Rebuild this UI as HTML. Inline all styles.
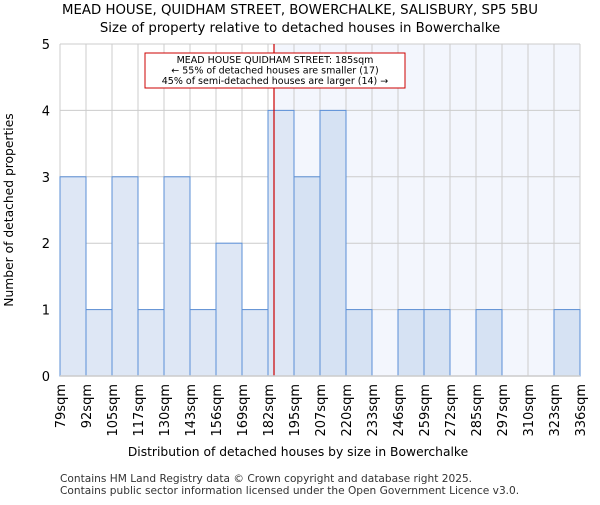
<!DOCTYPE html>
<html><head><meta charset="utf-8"><style>body{margin:0;background:#fff}svg{font-family:"DejaVu Sans","Liberation Sans",sans-serif}</style></head>
<body>
<svg id="c" width="600" height="500" xmlns="http://www.w3.org/2000/svg">
<text x="300" y="14" text-anchor="middle" font-size="13.3">MEAD HOUSE, QUIDHAM STREET, BOWERCHALKE, SALISBURY, SP5 5BU</text>
<text x="300" y="32" text-anchor="middle" font-size="13.3">Size of property relative to detached houses in Bowerchalke</text>
<g id="plot"></g>
<text x="298" y="456" text-anchor="middle" font-size="12.3">Distribution of detached houses by size in Bowerchalke</text>
<text transform="translate(13,210) rotate(-90)" text-anchor="middle" font-size="12.3">Number of detached properties</text>
<text x="60" y="482" font-size="10.6" fill="#333">Contains HM Land Registry data © Crown copyright and database right 2025.</text>
<text x="60" y="494" font-size="10.6" fill="#333">Contains public sector information licensed under the Open Government Licence v3.0.</text>
</svg>
<script>
const binLabels=["79sqm","92sqm","105sqm","117sqm","130sqm","143sqm","156sqm","169sqm","182sqm","195sqm","207sqm","220sqm","233sqm","246sqm","259sqm","272sqm","285sqm","297sqm","310sqm","323sqm","336sqm"];
const binEdges=[79,92,105,117,130,143,156,169,182,195,207,220,233,246,259,272,285,297,310,323,336];
const counts=[3,1,3,1,3,1,2,1,4,3,4,1,0,1,1,0,1,0,0,1];
const yTicks=[0,1,2,3,4,5];
const propertySize=185;
const L=60,R=580,T=44,B=376,ymax=5;
const g=document.getElementById('plot');
const NS='http://www.w3.org/2000/svg';
const n=counts.length,bw=(R-L)/n;
const xi=i=>L+i*bw;
const xv=v=>{for(let i=0;i<n;i++){if(v<=binEdges[i+1])return xi(i)+(v-binEdges[i])/(binEdges[i+1]-binEdges[i])*bw;}return R;};
const y=v=>B-(v/ymax)*(B-T);
function mk(t,a){const e=document.createElementNS(NS,t);for(const k in a)e.setAttribute(k,a[k]);g.appendChild(e);return e;}
const px=xv(propertySize);
let e=mk('rect',{x:px,y:T,width:R-px,height:B-T,fill:'#f3f6fd'});


yTicks.forEach(t=>{let l=mk('line',{x1:L,x2:R,y1:y(t),y2:y(t),stroke:'#cccccc'});


let tx=mk('text',{x:L-10,y:y(t)+5,'text-anchor':'end','font-size':13});tx.textContent=t;

});
for(let i=0;i<=n;i++){let l=mk('line',{x1:xi(i),x2:xi(i),y1:T,y2:B,stroke:'#cccccc'});

}
counts.forEach((c,i)=>{if(!c)return;const right=xi(i)>=px-1;
let r=mk('rect',{x:xi(i),y:y(c),width:bw,height:B-y(c),fill:right?'#d6e2f3':'#dee7f5',stroke:'#5b8fd6','stroke-width':1});

});
binLabels.forEach((s,i)=>{let t=mk('text',{transform:`translate(${xi(i)+5},384) rotate(-90)`,'text-anchor':'end','font-size':13});t.textContent=s;

});
e=mk('line',{x1:px,x2:px,y1:T,y2:B,stroke:'#cc0000','stroke-width':1.2});


e=mk('rect',{x:145,y:53,width:260,height:35,fill:'#fff',stroke:'#cc0000'});


["MEAD HOUSE QUIDHAM STREET: 185sqm","← 55% of detached houses are smaller (17)","45% of semi-detached houses are larger (14) →"].forEach((s,i)=>{let t=mk('text',{x:275,y:63+i*10.5,'text-anchor':'middle','font-size':9.5});t.textContent=s;

});
e=mk('line',{x1:L,x2:R,y1:B,y2:B,stroke:'#cccccc','stroke-width':1.5});


</script>
</body></html>
